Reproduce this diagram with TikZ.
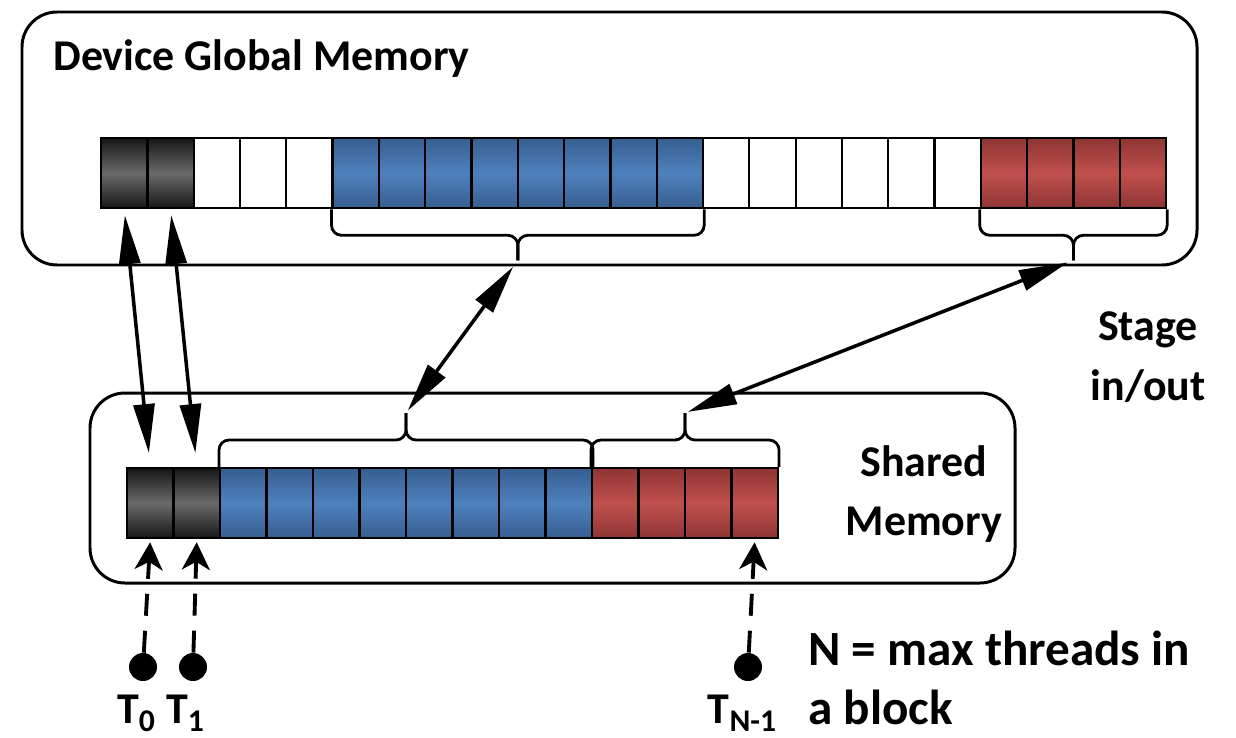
\documentclass[tikz,border=0pt]{standalone}
\usepackage{fontspec}
\setmainfont{Carlito}
\usepackage{tikz}
\usetikzlibrary{arrows.meta,calc}

\definecolor{blkdark}{HTML}{161616}
\definecolor{blkmid}{HTML}{6A6A6A}
\definecolor{bludark}{HTML}{365E90}
\definecolor{blumid}{HTML}{4F81BD}
\definecolor{reddark}{HTML}{8E3533}
\definecolor{redmid}{HTML}{C0504D}

\newcommand{\thrd}[1]{T\raisebox{-5pt}{\fontsize{18}{18}\selectfont #1}}

\begin{document}
\begin{tikzpicture}[x=0.02cm,y=-0.02cm,>=Latex,
    cell/.style={draw,line width=1.3pt,minimum width=0.926cm,minimum height=1.4cm,
        inner sep=0pt,anchor=north west},
    blk/.style={cell,top color=blkdark,bottom color=blkdark,middle color=blkmid},
    blu/.style={cell,top color=bludark,bottom color=bludark,middle color=blumid},
    rd/.style={cell,top color=reddark,bottom color=reddark,middle color=redmid},
    wht/.style={cell,fill=white},
    memory/.style={line width=1.7pt,rounded corners=0.7cm},
    brc/.style={line width=1.6pt,rounded corners=0.2cm},
    link/.style={{Triangle[length=0.98cm,width=0.42cm]}-{Triangle[length=0.98cm,width=0.42cm]},
        line width=2pt},
    thrlink/.style={-{Stealth[length=0.55cm,width=0.56cm,inset=0.16cm]},
        dash pattern=on 0.44cm off 0.3cm,line width=2.2pt},
    dot/.style={circle,fill,inner sep=0pt,minimum size=0.56cm},
    lbl/.style={font=\fontsize{25}{34}\selectfont\bfseries,inner sep=0pt,anchor=base},
    note/.style={lbl,font=\fontsize{28}{34}\selectfont\bfseries,anchor=base west}]

        \useasboundingbox (0,0) rectangle (1236,737);

        % Memory boxes
        \draw[memory] (22,12) rectangle (1197,265);
        \draw[memory] (90,393) rectangle (1015,583);

        % Global memory cells
        \foreach \i in {0,1} \node[blk] (g\i) at ({100+46.3*\i},137) {};
        \foreach \i in {2,...,4} \node[wht] (g\i) at ({100+46.3*\i},137) {};
        \foreach \i in {5,...,12} \node[blu] (g\i) at ({100+46.3*\i},137) {};
        \foreach \i in {13,...,18} \node[wht] (g\i) at ({100+46.3*\i},137) {};
        \foreach \i in {19,...,22} \node[rd] (g\i) at ({100+46.3*\i},137) {};

        % Shared memory cells
        \foreach \i in {0,1} \node[blk] (s\i) at ({126+46.5*\i},467) {};
        \foreach \i in {2,...,9} \node[blu] (s\i) at ({126+46.5*\i},467) {};
        \foreach \i in {10,...,13} \node[rd] (s\i) at ({126+46.5*\i},467) {};

        % Brace tips
        \coordinate (gblue) at ($(g5.south west)!.5!(g12.south east)+(0,51)$);
        \coordinate (gred) at ($(g19.south west)!.5!(g22.south east)+(0,51)$);
        \coordinate (sblue) at ($(s2.north west)!.5!(s9.north east)+(0,-54)$);
        \coordinate (sred) at ($(s10.north west)!.5!(s13.north east)+(0,-54)$);

        % Braces
        \draw[brc] (g5.south west) |- ($(gblue)+(0,-25)$) -- (gblue);
        \draw[brc] (g12.south east) |- ($(gblue)+(0,-25)$) -- (gblue);
        \draw[brc] (g19.south west) |- ($(gred)+(0,-25)$) -- (gred);
        \draw[brc] (g22.south east) |- ($(gred)+(0,-25)$) -- (gred);
        \draw[brc] (s2.north west) |- ($(sblue)+(0,27)$) -- (sblue);
        \draw[brc] (s9.north east) |- ($(sblue)+(0,27)$) -- (sblue);
        \draw[brc] (s10.north west) |- ($(sred)+(0,27)$) -- (sred);
        \draw[brc] (s13.north east) |- ($(sred)+(0,27)$) -- (sred);

        % Stage in/out
        \draw[link,shorten <=0.12cm,shorten >=0.28cm] (g0.south) -- (s0.north);
        \draw[link,shorten <=0.12cm,shorten >=0.28cm] (g1.south) -- (s1.north);
        \draw[link,shorten <=0.16cm,shorten >=0.06cm] (gblue) -- (sblue);
        \draw[link,shorten <=0.12cm,shorten >=0.06cm] (gred) -- (sred);

        % Threads
        \node[dot] (t0) at (143,667) {};
        \node[dot] (t1) at (193,667) {};
        \node[dot] (tn) at (748,667) {};
        \draw[thrlink,shorten >=0.06cm] (t0) -- (s0.south);
        \draw[thrlink,shorten >=0.06cm] (t1) -- (s1.south);
        \draw[thrlink,shorten >=0.06cm] (tn) -- (s13.south);

        \node[lbl] (l0) at (136,723) {\thrd{0}};
        \node[lbl] (l1) at (185,723) {\thrd{1}};
        \node[lbl] (ln) at (742,723) {\thrd{N-1}};

        % Labels
        \node[lbl,anchor=base west] (gname) at (53,70) {Device Global Memory};
        \node[lbl] (stage) at (1148,340) {Stage};
        \node[lbl] (inout) at (1148,400) {in/out};
        \node[lbl] (shared) at (924,476) {Shared};
        \node[lbl] (smem) at (924,535) {Memory};
        \node[note] (note1) at (808,665) {N = max threads in};
        \node[note] (note2) at (808,724) {a block};

    \end{tikzpicture}
\end{document}
